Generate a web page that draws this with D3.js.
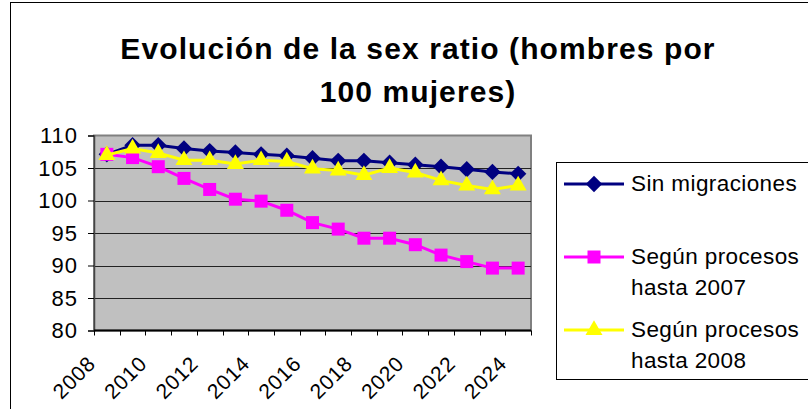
<!DOCTYPE html>
<html>
<head>
<meta charset="utf-8">
<script src="https://cdn.jsdelivr.net/npm/d3@7"></script>
<style>
	body { margin: 0; background: #fff; }
	text { font-family: "Liberation Sans", Arial, sans-serif; }
</style>
</head>
<body>
<div id="chart"></div>
<script>
var years = [2008, 2009, 2010, 2011, 2012, 2013, 2014, 2015, 2016, 2017, 2018, 2019, 2020, 2021, 2022, 2023, 2024];
var sinMigraciones = [107.1, 108.5, 108.5, 108.0, 107.6, 107.4, 107.1, 106.9, 106.5, 106.1, 106.1, 105.8, 105.5, 105.2, 104.8, 104.4, 104.1];
var hasta2007 = [107.1, 106.6, 105.2, 103.4, 101.7, 100.2, 99.9, 98.5, 96.6, 95.6, 94.2, 94.2, 93.2, 91.6, 90.6, 89.6, 89.6];
var hasta2008 = [107.0, 108.0, 107.3, 106.2, 106.2, 105.6, 106.2, 106.0, 104.9, 104.6, 103.9, 105.0, 104.3, 103.1, 102.3, 101.7, 102.3];
var yTicks = [80, 85, 90, 95, 100, 105, 110];
var titleLines = ["Evolución de la sex ratio (hombres por", "100 mujeres)"];
var seriesNames = [["Sin migraciones"], ["Según procesos", "hasta 2007"], ["Según procesos", "hasta 2008"]];

drawChart("chart", 808, 409);

function markerTransform(shape, px, py) {
	// diamonds are drawn wider than tall, like the excel marker
	var t = "translate(" + px + "," + py + ")";
	if (shape == d3.symbolDiamond) t += " scale(1.25,0.72)";
	return t;
}

function drawChart(container_id, width, height) {
	var svg = d3.select("#" + container_id)
				.append("svg")
				.attr("width", width)
				.attr("height", height);

	// outer chart frame
	svg.append("rect")
		.attr("x", 10.5).attr("y", 2.5)
		.attr("width", 900).attr("height", 500)
		.attr("fill", "#fff")
		.attr("stroke", "#000")
		.attr("stroke-width", 1);

	svg.append("g").selectAll("text")
		.data(titleLines)
		.enter()
		.append("text")
		.attr("x", 418)
		.attr("y", function(d, i) { return 59 + i * 43; })
		.attr("text-anchor", "middle")
		.attr("font-size", "30px")
		.attr("font-weight", "bold")
		.attr("letter-spacing", "1.1px")
		.text(function(d) { return d; });

	var plot = { left: 94, right: 531, top: 135.5, bottom: 330.5 };

	var x = d3.scaleBand()
				.domain(years)
				.range([plot.left, plot.right]);
	var y = d3.scaleLinear()
				.domain([80, 110])
				.range([plot.bottom, plot.top]);
	var cx = function(d, i) { return x(years[i]) + x.bandwidth() / 2; };

	svg.append("rect")
		.attr("x", plot.left).attr("y", plot.top)
		.attr("width", plot.right - plot.left)
		.attr("height", plot.bottom - plot.top)
		.attr("fill", "#c0c0c0")
		.attr("stroke", "#808080")
		.attr("stroke-width", 2);

	// gridlines
	svg.append("g").selectAll("line")
		.data(yTicks.filter(function(t) { return t > 80 && t < 110; }))
		.enter()
		.append("line")
		.attr("x1", plot.left).attr("x2", plot.right)
		.attr("y1", function(d) { return Math.round(y(d)) + 0.5; })
		.attr("y2", function(d) { return Math.round(y(d)) + 0.5; })
		.attr("stroke", "#222")
		.attr("stroke-width", 1);

	// y axis
	var yAxis = svg.append("g")
		.attr("transform", "translate(" + plot.left + ",0)")
		.call(d3.axisLeft(y).tickValues(yTicks).tickSize(6).tickPadding(10));
	yAxis.select(".domain").attr("stroke", "#444").attr("stroke-width", 1.5);
	yAxis.selectAll("line").attr("stroke", "#000");
	yAxis.selectAll("text")
		.attr("font-size", "22px")
		.attr("letter-spacing", "1px")
		.attr("fill", "#000")
		.style("font-family", "'Liberation Sans', Arial, sans-serif");

	// x axis: ticks on category boundaries
	var xAxis = svg.append("g");
	xAxis.append("line")
		.attr("x1", plot.left).attr("x2", plot.right)
		.attr("y1", plot.bottom).attr("y2", plot.bottom)
		.attr("stroke", "#000")
		.attr("stroke-width", 2);
	xAxis.selectAll(".tick")
		.data(years.concat([null]))
		.enter()
		.append("line")
		.attr("x1", function(d, i) { return Math.round(i < years.length ? x(years[i]) : plot.right) + 0.5; })
		.attr("x2", function(d, i) { return Math.round(i < years.length ? x(years[i]) : plot.right) + 0.5; })
		.attr("y1", plot.bottom).attr("y2", plot.bottom + 5)
		.attr("stroke", "#000");
	xAxis.selectAll("text")
		.data(years.filter(function(d, i) { return i % 2 == 0; }))
		.enter()
		.append("text")
		.attr("transform", function(d) {
			return "translate(" + (x(d) + x.bandwidth() / 2 - 10) + ",365) rotate(-45)";
		})
		.attr("text-anchor", "end")
		.attr("font-size", "21px")
		.attr("letter-spacing", "0.8px")
		.text(function(d) { return d; });

	var series = [
		{ values: sinMigraciones, color: "#000080", shape: d3.symbolDiamond, size: 150 },
		{ values: hasta2007, color: "#ff00ff", shape: d3.symbolSquare, size: 169 },
		{ values: hasta2008, color: "#ffff00", shape: d3.symbolTriangle, size: 125 }
	];

	var line = d3.line()
				.x(cx)
				.y(function(d) { return y(d); });

	series.forEach(function(s) {
		var g = svg.append("g");
		g.append("path")
			.datum(s.values)
			.attr("d", line)
			.attr("fill", "none")
			.attr("stroke", s.color)
			.attr("stroke-width", 3);
		g.selectAll("path.marker")
			.data(s.values)
			.enter()
			.append("path")
			.attr("class", "marker")
			.attr("transform", function(d, i) {
				return markerTransform(s.shape, cx(d, i), y(d));
			})
			.attr("d", d3.symbol().type(s.shape).size(s.size))
			.attr("fill", s.color);
	});

	// legend
	var legend = svg.append("g");
	legend.append("rect")
		.attr("x", 556.5).attr("y", 162.5)
		.attr("width", 300).attr("height", 217)
		.attr("fill", "#fff")
		.attr("stroke", "#000")
		.attr("stroke-width", 1);
	var rowY = [184, 257, 330];
	series.forEach(function(s, i) {
		legend.append("line")
			.attr("x1", 564).attr("x2", 624)
			.attr("y1", rowY[i]).attr("y2", rowY[i])
			.attr("stroke", s.color)
			.attr("stroke-width", 3);
		legend.append("path")
			.attr("transform", markerTransform(s.shape, 594, rowY[i]))
			.attr("d", d3.symbol().type(s.shape).size(s.size))
			.attr("fill", s.color);
		legend.selectAll("text.r" + i)
			.data(seriesNames[i])
			.enter()
			.append("text")
			.attr("class", "r" + i)
			.attr("x", 631)
			.attr("y", function(d, j) { return rowY[i] + 7 + j * 30.5; })
			.attr("font-size", "22.5px")
			.attr("letter-spacing", "0.4px")
			.text(function(d) { return d; });
	});
}
</script>
</body>
</html>
